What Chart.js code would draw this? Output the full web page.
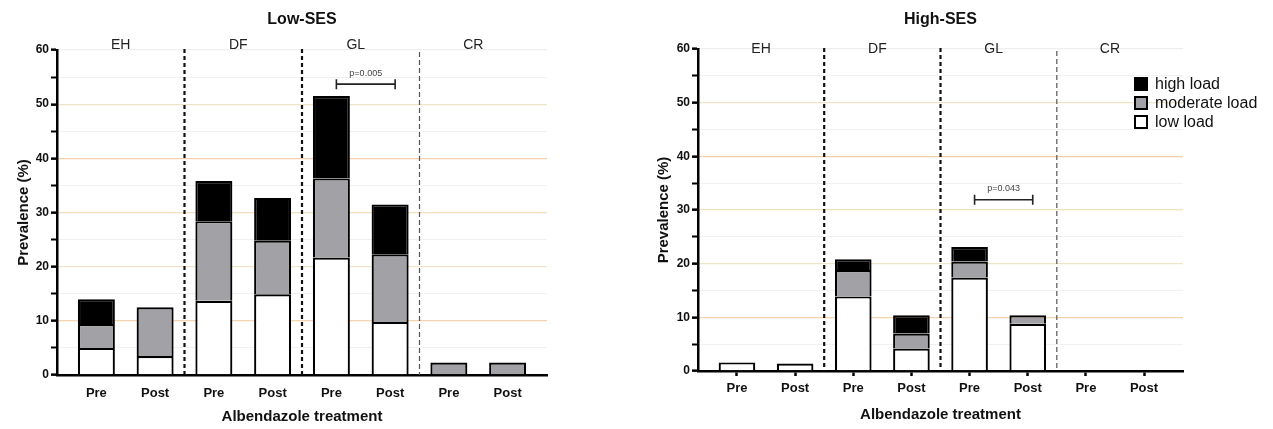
<!DOCTYPE html>
<html>
<head>
<meta charset="utf-8">
<script src="https://cdn.jsdelivr.net/npm/chart.js@4.4.1/dist/chart.umd.min.js"></script>
<style>
  body { margin: 0; background: #fff; }
  #wrap { position: relative; width: 1273px; height: 429px; }
  #lowChart { position: absolute; left: 0; top: 0; }
  #highChart { position: absolute; left: 636px; top: 0; }
</style>
</head>
<body>
<div id="wrap">
  <canvas id="lowChart" width="636" height="429"></canvas>
  <canvas id="highChart" width="637" height="429"></canvas>
</div>
<script>
// categories
const labels = ['Pre', 'Post', 'Pre', 'Post', 'Pre', 'Post', 'Pre', 'Post'];
const groups = ['EH', 'DF', 'GL', 'CR'];
const yTicks = [0, 10, 20, 30, 40, 50, 60];

// Low-SES prevalence (%) per load level
const lowSesLow = [5.0, 3.5, 13.7, 14.9, 21.7, 9.8, null, null];
const lowSesModerate = [4.4, 9.0, 14.7, 9.9, 14.6, 12.5, 2.3, 2.3];
const lowSesHigh = [4.6, null, 7.4, 7.9, 15.2, 9.2, null, null];

// High-SES prevalence (%) per load level
const highSesLow = [1.6, 1.4, 13.9, 4.2, 17.4, 8.8, null, null];
const highSesModerate = [null, null, 4.9, 2.8, 3.0, 1.6, null, null];
const highSesHigh = [null, null, 2.0, 3.4, 2.7, null, null, null];

// significance brackets: [from index, to index, height (%), text]
const lowSesPvals = [[4, 5, 53.7, 'p=0.005']];
const highSesPvals = [[4, 5, 31.9, 'p=0.043']];

const FONT = "'Liberation Sans', Arial, Helvetica, sans-serif";
Chart.defaults.font.family = FONT;
Chart.defaults.color = '#111';

const gridColors = {10: '#f4d3ae', 20: '#efe5c9', 30: '#f1dfc0', 40: '#f4d0aa', 50: '#eee4c7'};

function makeDatasets(low, mod, high) {
  // skip the base edge so stacked segments share one dividing line
  const base = { borderColor: '#000', borderWidth: 2.2, borderSkipped: 'start', barPercentage: 0.63, categoryPercentage: 1 };
  return [
    Object.assign({ label: 'low load', data: low, backgroundColor: '#ffffff' }, base),
    Object.assign({ label: 'moderate load', data: mod, backgroundColor: '#a2a2a6' }, base),
    Object.assign({ label: 'high load', data: high, backgroundColor: '#000000' }, base)
  ];
}

// titles, group labels, separators, brackets and legend
const panelPlugin = {
  id: 'panel',
  afterDatasetsDraw(chart, args, opts) {
    const ctx = chart.ctx;
    const x = chart.scales.x, y = chart.scales.y;
    const area = chart.chartArea;
    ctx.save();

    // dashed separators between groups
    const sepStyle = [[2.2, '#111'], [2.2, '#111'], [1.2, '#555']];
    for (let g = 1; g < groups.length; g++) {
      const px = (x.getPixelForValue(2 * g - 1) + x.getPixelForValue(2 * g)) / 2;
      ctx.beginPath();
      ctx.setLineDash(g < 3 ? [4, 3] : [5, 3]);
      ctx.lineWidth = sepStyle[g - 1][0];
      ctx.strokeStyle = sepStyle[g - 1][1];
      ctx.moveTo(px, area.top - 1 + (g === 3 ? 3 : 0));
      ctx.lineTo(px, area.bottom);
      ctx.stroke();
    }
    ctx.setLineDash([]);

    // group labels
    ctx.fillStyle = '#222';
    ctx.font = '14px ' + FONT;
    ctx.textAlign = 'center';
    ctx.textBaseline = 'middle';
    groups.forEach((g, i) => {
      const cx = (x.getPixelForValue(2 * i) + x.getPixelForValue(2 * i + 1)) / 2 - 5;
      ctx.fillText(g, cx, opts.groupY);
    });

    // panel title
    ctx.fillStyle = '#111';
    ctx.font = 'bold 16px ' + FONT;
    ctx.fillText(opts.title, (area.left + area.right) / 2, 20);

    // p-value brackets
    opts.pvals.forEach(([a, b, v, txt]) => {
      const x1 = x.getPixelForValue(a) + 5, x2 = x.getPixelForValue(b) + 5;
      const py = y.getPixelForValue(v);
      ctx.strokeStyle = '#222';
      ctx.lineWidth = 1.6;
      ctx.beginPath();
      ctx.moveTo(x1, py); ctx.lineTo(x2, py);
      ctx.moveTo(x1, py - 5); ctx.lineTo(x1, py + 5);
      ctx.moveTo(x2, py - 5); ctx.lineTo(x2, py + 5);
      ctx.stroke();
      ctx.fillStyle = '#444';
      ctx.font = '9px ' + FONT;
      ctx.fillText(txt, (x1 + x2) / 2, py - 11);
    });

    // legend
    if (opts.legend) {
      const sets = chart.data.datasets.slice().reverse();
      const rows = [84, 103, 122];
      ctx.font = '16px ' + FONT;
      ctx.textAlign = 'left';
      sets.forEach((ds, i) => {
        ctx.fillStyle = ds.backgroundColor;
        ctx.fillRect(499, rows[i] - 6, 12, 12);
        ctx.strokeStyle = '#000';
        ctx.lineWidth = 2;
        ctx.strokeRect(499, rows[i] - 6, 12, 12);
        ctx.fillStyle = '#111';
        ctx.fillText(ds.label, 519, rows[i] + 1);
      });
    }
    ctx.restore();
  }
};

function makeChart(id, datasets, cfg) {
  return new Chart(document.getElementById(id), {
    type: 'bar',
    data: { labels: labels, datasets: datasets },
    plugins: [panelPlugin],
    options: {
      responsive: false,
      animation: false,
      layout: { padding: { top: cfg.top, right: cfg.right, left: 0, bottom: 0 } },
      plugins: {
        legend: { display: false },
        tooltip: { enabled: false },
        panel: { title: cfg.title, groupY: cfg.groupY, pvals: cfg.pvals, legend: cfg.legend }
      },
      scales: {
        x: {
          stacked: true,
          ticks: { font: { size: 13, weight: 'bold' }, color: '#111', padding: cfg.xTicks ? 5 : 11, maxRotation: 0, autoSkip: false },
          grid: { display: true, drawOnChartArea: false, drawTicks: cfg.xTicks, tickLength: 5, tickColor: '#000', tickWidth: 2.5, offset: false },
          border: { color: '#000', width: 2.5 },
          title: { display: true, text: 'Albendazole treatment', font: { size: 15, weight: 'bold' }, color: '#111', padding: { top: 0, bottom: cfg.xTitlePad } },
          // leave a small gap between the axes and the outer bars
          afterBuildTicks: s => { s._startValue -= 0.17; s._valueRange += 0.34; },
          afterFit: s => { s.height = cfg.xHeight; }
        },
        y: {
          stacked: true,
          min: yTicks[0],
          max: yTicks[yTicks.length - 1],
          ticks: {
            stepSize: 5,
            autoSkip: false,
            padding: 2,
            color: '#111',
            font: { size: 12, weight: 'bold' },
            callback: v => yTicks.includes(v) ? v : ''
          },
          grid: {
            color: c => c.tick.value === 0 ? 'rgba(0,0,0,0)' : (c.tick.value % 10 === 0 ? gridColors[c.tick.value] || '#eee' : 'rgba(225,225,225,0.45)'),
            lineWidth: c => c.tick.value % 10 === 0 ? 1.3 : 1,
            tickColor: '#000',
            tickLength: 6,
            tickWidth: c => c.tick.value % 10 === 0 ? 2.5 : 2
          },
          border: { color: '#000', width: 2.5 },
          title: { display: true, text: 'Prevalence (%)', font: { size: 15, weight: 'bold' }, color: '#111', padding: { top: cfg.yTitlePad, bottom: 0 } },
          afterFit: s => { s.width = cfg.yWidth; }
        }
      }
    }
  });
}

makeChart('lowChart', makeDatasets(lowSesLow, lowSesModerate, lowSesHigh), {
  title: 'Low-SES', top: 50, right: 89, yWidth: 57, xHeight: 54, xTitlePad: 3, yTitlePad: 15,
  groupY: 45, pvals: lowSesPvals, legend: false, xTicks: false
});

makeChart('highChart', makeDatasets(highSesLow, highSesModerate, highSesHigh), {
  title: 'High-SES', top: 49, right: 90, yWidth: 62, xHeight: 58, xTitlePad: 5, yTitlePad: 19,
  groupY: 49, pvals: highSesPvals, legend: true, xTicks: true
});
</script>
</body>
</html>
